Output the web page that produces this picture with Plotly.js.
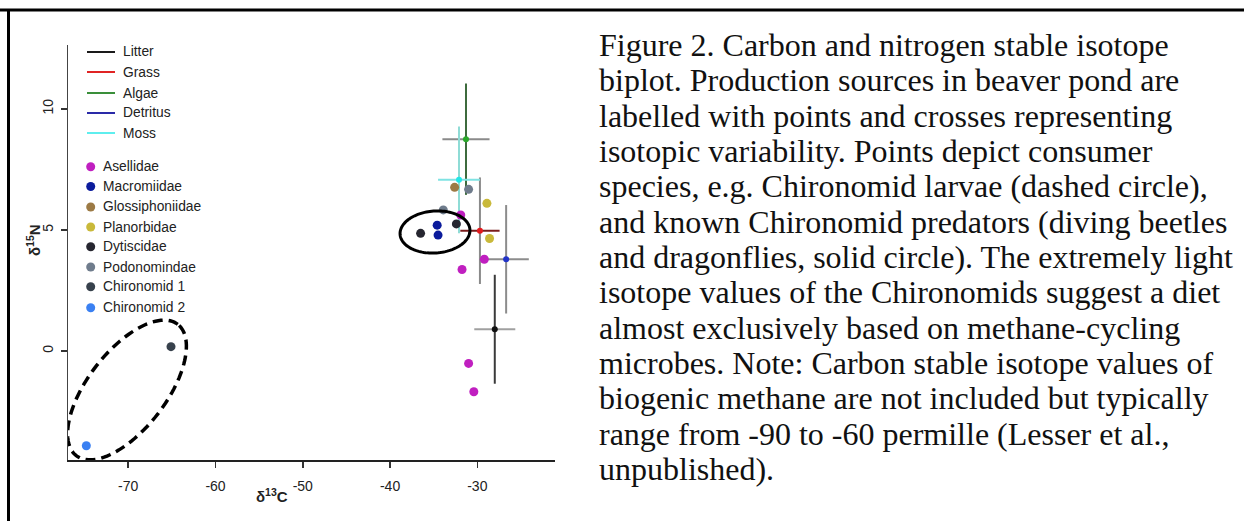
<!DOCTYPE html>
<html>
<head>
<meta charset="utf-8">
<script src="https://cdn.plot.ly/plotly-3.0.1.min.js"></script>
<style>
  html, body { margin: 0; padding: 0; background: #ffffff; }
  #chart { width: 1244px; height: 521px; }
</style>
</head>
<body>
<div id="chart"></div>
<script>
// ---------------- DATA ----------------
// Production sources (mean +/- variability)
const sourceNames  = ['Litter', 'Grass', 'Algae', 'Detritus', 'Moss'];
const sourceC13    = [-28.0, -29.7, -31.3, -26.7, -32.1];
const sourceN15    = [0.9, 4.97, 8.75, 3.79, 7.07];
const sourceSdC13  = [2.35, 2.25, 2.7, 2.6, 2.4];
const sourceSdN15  = [2.25, 2.2, 2.3, 2.24, 2.2];

// Consumers
const consumerNames = ['Asellidae', 'Macromiidae', 'Glossiphoniidae', 'Planorbidae',
                       'Dytiscidae', 'Podonomindae', 'Chironomid 1', 'Chironomid 2'];
const asellidaeC13       = [-31.9, -29.2, -31.75, -31.0, -30.4];
const asellidaeN15       = [5.62, 3.79, 3.37, -0.51, -1.68];
const macromiidaeC13     = [-34.6, -34.5];
const macromiidaeN15     = [5.2, 4.79];
const glossiphoniidaeC13 = [-32.6];
const glossiphoniidaeN15 = [6.76];
const planorbidaeC13     = [-28.9, -28.6];
const planorbidaeN15     = [6.1, 4.65];
const dytiscidaeC13      = [-36.5, -32.4];
const dytiscidaeN15      = [4.86, 5.25];
const podonomindaeC13    = [-31.0, -33.9];
const podonomindaeN15    = [6.68, 5.83];
const chironomid1C13     = [-65.1];
const chironomid1N15     = [0.18];
const chironomid2C13     = [-74.8];
const chironomid2N15     = [-3.91];

const xTicks = [-70, -60, -50, -40, -30];
const yTicks = [0, 5, 10];

// ---------------- STYLE ----------------
const sourcePointColors = ['#111111', '#e3191c', '#2aa82a', '#2233c8', '#22e6e6'];
const sourceLegendColors = ['#1a1a1a', '#e02424', '#3a8f3a', '#2a2aa8', '#5eeeee'];
const sourceErrXColors = ['#a0a0a0', '#7a1c1c', '#8a8a8a', '#8c8c8c', '#7fe3e3'];
const sourceErrYColors = ['#3a3a3a', '#8a8a8a', '#3d6b3d', '#8c8c8c', '#8fdcd6'];
const consumerColors = ['#c01fc0', '#0b1b9c', '#9c7a45', '#c9b93a',
                        '#262630', '#6f7c8c', '#37414c', '#3a80f2'];

const consumerC13 = [asellidaeC13, macromiidaeC13, glossiphoniidaeC13, planorbidaeC13,
                     dytiscidaeC13, podonomindaeC13, chironomid1C13, chironomid2C13];
const consumerN15 = [asellidaeN15, macromiidaeN15, glossiphoniidaeN15, planorbidaeN15,
                     dytiscidaeN15, podonomindaeN15, chironomid1N15, chironomid2N15];

// Layout geometry (pixels)
const FW = 1244, FH = 521;
const ML = 68, MR = 689, MT = 45, MB = 61;
const PW = FW - ML - MR, PH = FH - MT - MB;
const xRange = [-76.9, -21.1];
const yRange = [-4.5, 12.64];

const px2paperX = px => (px - ML) / PW;
const py2paperY = py => (MT + PH - py) / PH;
const px2dataX = px => xRange[0] + (px - ML) / PW * (xRange[1] - xRange[0]);
const py2dataY = py => yRange[0] + (MT + PH - py) / PH * (yRange[1] - yRange[0]);

// ---------------- TRACES ----------------
const traces = [];
sourceNames.forEach((name, i) => {
  traces.push({
    type: 'scatter', mode: 'markers', name: name, showlegend: false,
    x: [sourceC13[i]], y: [sourceN15[i]],
    marker: { color: sourcePointColors[i], size: 6 },
    error_x: { type: 'data', array: [sourceSdC13[i]], color: sourceErrXColors[i], thickness: 2, width: 0 },
    error_y: { type: 'data', array: [sourceSdN15[i]], color: sourceErrYColors[i], thickness: 2, width: 0 },
    cliponaxis: false
  });
});
consumerNames.forEach((name, i) => {
  traces.push({
    type: 'scatter', mode: 'markers', name: name, showlegend: false,
    x: consumerC13[i], y: consumerN15[i],
    marker: { color: consumerColors[i], size: 9 },
    cliponaxis: false
  });
});

// ---------------- SHAPES ----------------
function ellipsePath(cx, cy, a, b, thetaDeg) {
  const t = thetaDeg * Math.PI / 180;
  let d = '';
  const n = 120;
  for (let k = 0; k <= n; k++) {
    const p = 2 * Math.PI * k / n;
    const ex = a * Math.cos(p), ey = b * Math.sin(p);
    const px = cx + ex * Math.cos(t) - ey * Math.sin(t);
    const py = cy - (ex * Math.sin(t) + ey * Math.cos(t));
    d += (k === 0 ? 'M' : 'L') + px2dataX(px).toFixed(4) + ',' + py2dataY(py).toFixed(4);
  }
  return d + 'Z';
}

const shapes = [
  // page frame (top and left rules)
  { type: 'line', xref: 'paper', yref: 'paper', x0: px2paperX(0), x1: px2paperX(1244),
    y0: py2paperY(10), y1: py2paperY(10), line: { color: '#000', width: 3 } },
  { type: 'line', xref: 'paper', yref: 'paper', x0: px2paperX(8.5), x1: px2paperX(8.5),
    y0: py2paperY(10), y1: py2paperY(521), line: { color: '#000', width: 3 } },
  // Chironomid larvae (dashed)
  { type: 'path', xref: 'x', yref: 'y', path: ellipsePath(127, 390, 83, 39, 52.3),
    line: { color: '#000', width: 3.5, dash: '10px,6px' } },
  // predators (solid)
  { type: 'path', xref: 'x', yref: 'y', path: ellipsePath(435, 232, 35, 21, 4),
    line: { color: '#000', width: 3 } }
];

// legend: lines for sources
const annotations = [];
const lineLegendY = [52, 72, 93, 113, 133];
sourceNames.forEach((name, i) => {
  shapes.push({ type: 'line', xref: 'paper', yref: 'paper',
    x0: px2paperX(87), x1: px2paperX(115), y0: py2paperY(lineLegendY[i]), y1: py2paperY(lineLegendY[i]),
    line: { color: sourceLegendColors[i], width: 2 } });
  annotations.push({ xref: 'paper', yref: 'paper', x: px2paperX(120.5), y: py2paperY(lineLegendY[i]),
    xanchor: 'left', yanchor: 'middle', showarrow: false, text: name,
    font: { family: 'Liberation Sans, Arial, sans-serif', size: 13.8, color: '#222' } });
});
const markLegendY = [166.7, 186.5, 207, 227, 246.7, 267, 286.7, 307.7];
consumerNames.forEach((name, i) => {
  shapes.push({ type: 'circle', xref: 'paper', yref: 'paper',
    xsizemode: 'pixel', ysizemode: 'pixel',
    xanchor: px2paperX(90.7), yanchor: py2paperY(markLegendY[i]),
    x0: -4.5, x1: 4.5, y0: -4.5, y1: 4.5,
    fillcolor: consumerColors[i], line: { width: 0 } });
  annotations.push({ xref: 'paper', yref: 'paper', x: px2paperX(100.5), y: py2paperY(markLegendY[i]),
    xanchor: 'left', yanchor: 'middle', showarrow: false, text: name,
    font: { family: 'Liberation Sans, Arial, sans-serif', size: 13.8, color: '#222' } });
});

// axis titles
annotations.push({ xref: 'paper', yref: 'paper', x: px2paperX(272), y: py2paperY(495),
  xanchor: 'center', yanchor: 'middle', showarrow: false, text: '<b>δ<sup>13</sup>C</b>',
  font: { family: 'Liberation Sans, Arial, sans-serif', size: 15, color: '#222' } });
annotations.push({ xref: 'paper', yref: 'paper', x: px2paperX(34), y: py2paperY(240),
  xanchor: 'center', yanchor: 'middle', showarrow: false, textangle: -90, text: '<b>δ<sup>15</sup>N</b>',
  font: { family: 'Liberation Sans, Arial, sans-serif', size: 15, color: '#222' } });

// caption
const captionLines = [
  'Figure 2. Carbon and nitrogen stable isotope',
  'biplot. Production sources in beaver pond are',
  'labelled with points and crosses representing',
  'isotopic variability. Points depict consumer',
  'species, e.g. Chironomid larvae (dashed circle),',
  'and known Chironomid predators (diving beetles',
  'and dragonflies, solid circle). The extremely light',
  'isotope values of the Chironomids suggest a diet',
  'almost exclusively based on methane-cycling',
  'microbes. Note: Carbon stable isotope values of',
  'biogenic methane are not included but typically',
  'range from -90 to -60 permille (Lesser et al.,',
  'unpublished).'
];
captionLines.forEach((line, i) => {
  annotations.push({ xref: 'paper', yref: 'paper', x: px2paperX(597), y: py2paperY(45 + i * 35.33),
    xanchor: 'left', yanchor: 'middle', showarrow: false, text: line,
    font: { family: 'Liberation Serif, Times New Roman, serif', size: 32, color: '#111' } });
});

const layout = {
  width: FW, height: FH,
  margin: { l: ML, r: MR, t: MT, b: MB, pad: 0 },
  paper_bgcolor: '#ffffff', plot_bgcolor: '#ffffff',
  showlegend: false,
  xaxis: {
    range: xRange, tickvals: xTicks, ticktext: xTicks.map(String),
    showgrid: false, zeroline: false, showline: true, linecolor: '#222', linewidth: 2,
    ticks: 'outside', ticklen: 6, tickwidth: 1.5, tickcolor: '#333',
    tickfont: { family: 'Liberation Sans, Arial, sans-serif', size: 14, color: '#222' },
    ticklabelstandoff: 6
  },
  yaxis: {
    range: yRange, tickvals: yTicks, ticktext: yTicks.map(String),
    showgrid: false, zeroline: false, showline: true, linecolor: '#444', linewidth: 1.5,
    ticks: 'outside', ticklen: 6, tickwidth: 1.5, tickcolor: '#333', tickangle: -90,
    tickfont: { family: 'Liberation Sans, Arial, sans-serif', size: 14, color: '#222' },
    ticklabelstandoff: 2
  },
  shapes: shapes,
  annotations: annotations
};

Plotly.newPlot('chart', traces, layout, { staticPlot: true, displayModeBar: false });
</script>
</body>
</html>
